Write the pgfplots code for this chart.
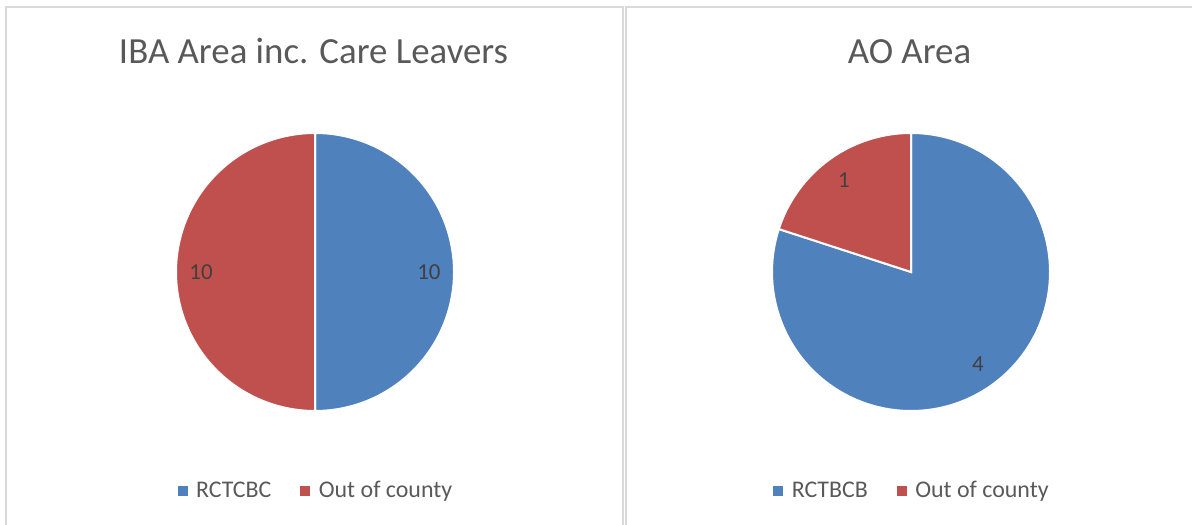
\documentclass[border=0pt]{standalone}
\usepackage{pgfplots}
\pgfplotsset{compat=1.18}
\usepackage{pgfplotstable}
\usepackage{fontspec}
\setmainfont{Carlito}
\definecolor{c1}{HTML}{4F81BD}
\definecolor{c2}{HTML}{C0504D}
\definecolor{txt}{HTML}{595959}
\definecolor{lab}{HTML}{404040}
\definecolor{brd}{HTML}{D9D9D9}

\pgfplotstableread{
group value
RCTCBC 10
Out 10
}\ibatab
\pgfplotstableread{
group value
RCTBCB 4
Out 1
}\aotab

\pgfplotstablegetelem{0}{value}\of\ibatab \edef\ibaA{\pgfplotsretval}
\pgfplotstablegetelem{1}{value}\of\ibatab \edef\ibaB{\pgfplotsretval}
\pgfplotstablegetelem{0}{value}\of\aotab \edef\aoA{\pgfplotsretval}
\pgfplotstablegetelem{1}{value}\of\aotab \edef\aoB{\pgfplotsretval}

\pgfmathsetmacro\ibaM{90-360*\ibaA/(\ibaA+\ibaB)}
\pgfmathsetmacro\ibaLa{(90+\ibaM)/2}
\pgfmathsetmacro\ibaLb{(\ibaM-270)/2}
\pgfmathsetmacro\aoM{90-360*\aoA/(\aoA+\aoB)}
\pgfmathsetmacro\aoLa{(90+\aoM)/2}
\pgfmathsetmacro\aoLb{(\aoM-270)/2}

\pgfplotsset{pieax/.style={
  scale only axis, width=278bp, height=278bp,
  xmin=-1, xmax=1, ymin=-1, ymax=1, hide axis, clip=false,
  legend columns=2,
  legend style={draw=none, fill=none, at={(0.5,-0.285)}, anchor=center,
    font=\fontsize{24}{28}\selectfont\color{txt},
    nodes={inner sep=0pt},
    /tikz/every odd column/.append style={column sep=9bp},
    /tikz/every even column/.append style={column sep=29bp}},
  legend cell align=left},
  slice/.style={draw=white, line width=2bp, samples=181, forget plot}
}
\tikzset{lbl/.style={font=\fontsize{23}{26}\selectfont, text=lab}}

\begin{document}
\begin{tikzpicture}[x=1bp,y=1bp]
\path[use as bounding box] (0,0) rectangle (1192,525);
\draw[brd, line width=2bp] (6,0) -- (6,518) -- (623,518) -- (623,0);
\draw[brd, line width=2bp] (626,0) -- (626,518) -- (1192,518);

\node[font=\fontsize{37}{40}\selectfont, text=txt, anchor=base] at (313.5,461) {IBA Area inc. Care Leavers};
\node[font=\fontsize{37}{40}\selectfont, text=txt, anchor=base] at (909.5,461) {AO Area};

\begin{axis}[pieax, at={(315bp,253bp)}, anchor=center]
\addlegendimage{legend image code/.code={\fill[c1] (0,-4.5bp) rectangle (9bp,4.5bp);}}
\addlegendentry{RCTCBC}
\addlegendimage{legend image code/.code={\fill[c2] (0,-4.5bp) rectangle (9bp,4.5bp);}}
\addlegendentry{Out of county}
\addplot[slice, fill=c1, domain=90:\ibaM] ({cos(x)},{sin(x)}) -- (axis cs:0,0) -- cycle;
\addplot[slice, fill=c2, domain=\ibaM:-270] ({cos(x)},{sin(x)}) -- (axis cs:0,0) -- cycle;
\node[lbl] at (axis cs:{0.82*cos(\ibaLa)},{0.82*sin(\ibaLa)}) {\ibaA};
\node[lbl] at (axis cs:{0.82*cos(\ibaLb)},{0.82*sin(\ibaLb)}) {\ibaB};
\end{axis}

\begin{axis}[pieax, at={(911bp,253bp)}, anchor=center]
\addlegendimage{legend image code/.code={\fill[c1] (0,-4.5bp) rectangle (9bp,4.5bp);}}
\addlegendentry{RCTBCB}
\addlegendimage{legend image code/.code={\fill[c2] (0,-4.5bp) rectangle (9bp,4.5bp);}}
\addlegendentry{Out of county}
\addplot[slice, fill=c1, domain=90:\aoM] ({cos(x)},{sin(x)}) -- (axis cs:0,0) -- cycle;
\addplot[slice, fill=c2, domain=\aoM:-270] ({cos(x)},{sin(x)}) -- (axis cs:0,0) -- cycle;
\node[lbl] at (axis cs:{0.82*cos(\aoLa)},{0.82*sin(\aoLa)}) {\aoA};
\node[lbl] at (axis cs:{0.82*cos(\aoLb)},{0.82*sin(\aoLb)}) {\aoB};
\end{axis}
\end{tikzpicture}
\end{document}
